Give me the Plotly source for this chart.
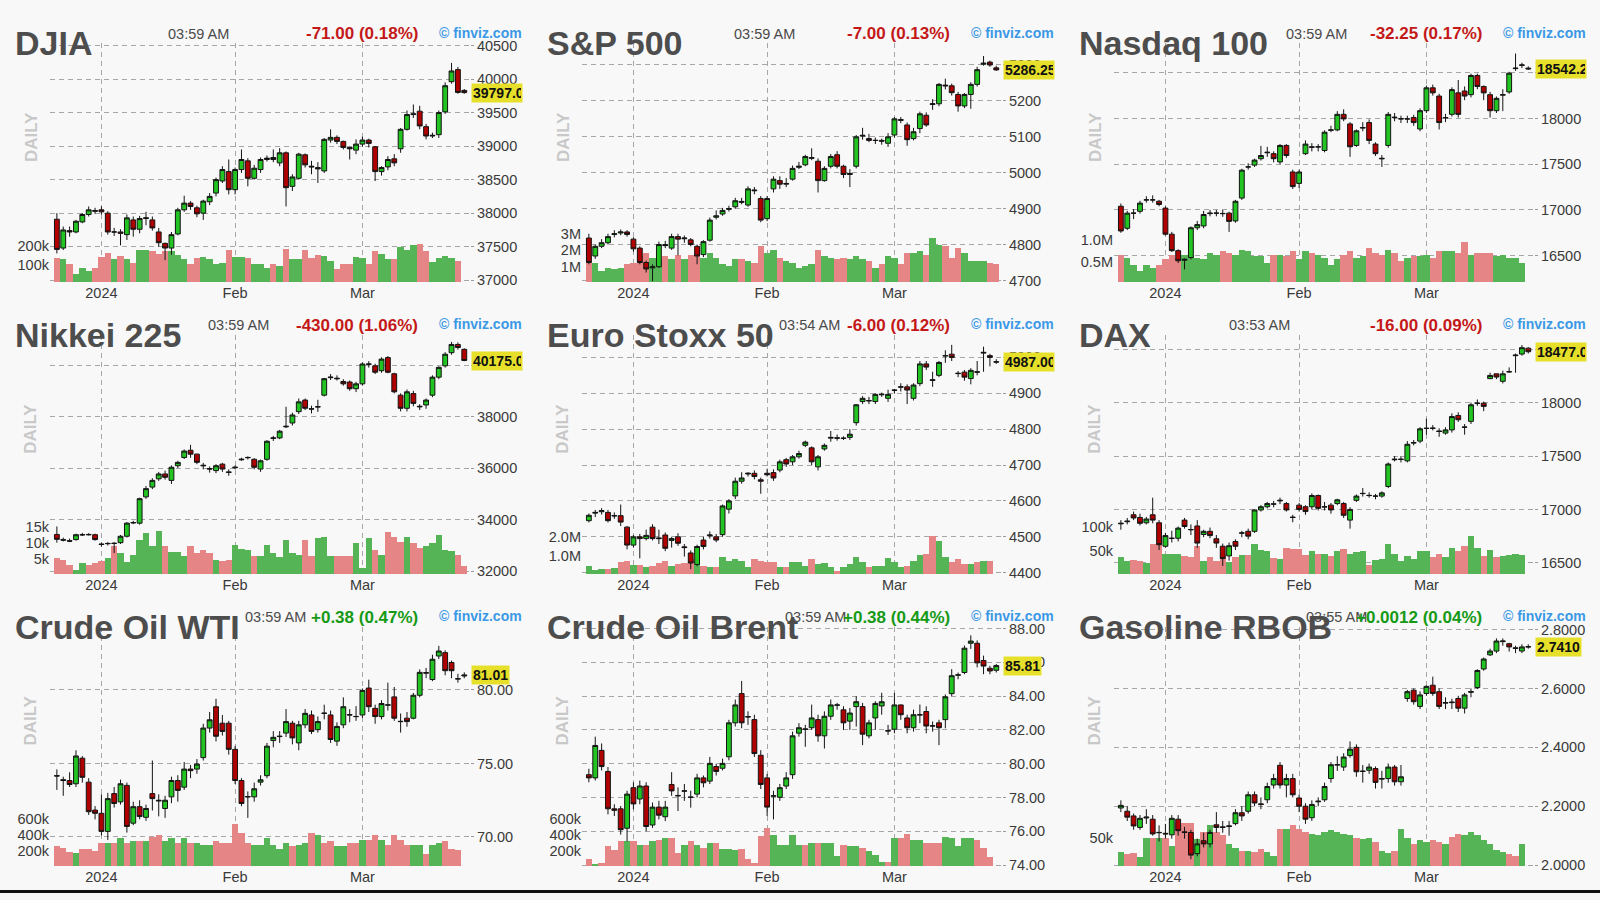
import pandas as pd
import plotly.graph_objects as go

# trading days shown on every panel (Dec 20 2023 .. Mar 25 2024)
HOLIDAYS = ['2023-12-25', '2024-01-01', '2024-01-15', '2024-02-19']
DATES = [d.strftime('%Y-%m-%d') for d in pd.bdate_range('2023-12-20', '2024-03-25')
         if d.strftime('%Y-%m-%d') not in HOLIDAYS]
MONTH_TICKS = ['2024-01-02', '2024-02-01', '2024-03-01']
MONTH_LABELS = ['2024', 'Feb', 'Mar']

NAMES = ['DJIA', 'S&P 500', 'Nasdaq 100', 'Nikkei 225', 'Euro Stoxx 50', 'DAX',
         'Crude Oil WTI', 'Crude Oil Brent', 'Gasoline RBOB']
TIMES = ['03:59 AM', '03:59 AM', '03:59 AM', '03:59 AM', '03:54 AM', '03:53 AM',
         '03:59 AM', '03:59 AM', '03:55 AM']
CHANGES = ['-71.00 (0.18%)', '-7.00 (0.13%)', '-32.25 (0.17%)', '-430.00 (1.06%)',
           '-6.00 (0.12%)', '-16.00 (0.09%)', '+0.38 (0.47%)', '+0.38 (0.44%)',
           '+0.0012 (0.04%)']
LAST_TEXT = ['39797.00', '5286.25', '18542.25', '40175.00', '4987.00', '18477.00',
             '81.01', '85.81', '2.7410']

# ---- DJIA
DJIA_O = [37910, 37480, 37740, 37720, 37870, 37980, 38040, 38050, 38000, 37720, 37720, 37680, 37900,
          37760, 37920, 37900, 37720, 37550, 37480, 37690, 38050, 38150, 38080, 38000, 38170, 38300,
          38480, 38620, 38350, 38650, 38780, 38520, 38650, 38800, 38830, 38750, 38900, 38400, 38520,
          38870, 38700, 38680, 38630, 39090, 39130, 39070, 38980, 38940, 39030, 39090, 38990, 38620,
          38690, 38810, 38960, 39250, 39470, 39520, 39290, 39150, 39170, 39510, 39960, 40140, 39830]
DJIA_H = [38000, 37800, 37800, 37900, 38000, 38100, 38080, 38100, 38030, 37780, 37760, 37980, 37950,
          37960, 38020, 37950, 37780, 37560, 37720, 38080, 38260, 38180, 38110, 38200, 38300, 38530,
          38700, 38800, 38680, 38950, 38820, 38720, 38830, 38860, 38950, 38970, 38920, 38580, 38900,
          38890, 38780, 38760, 39120, 39250, 39160, 39080, 38990, 39100, 39140, 39110, 39000, 38700,
          38850, 38880, 39270, 39530, 39620, 39600, 39330, 39200, 39530, 39950, 40240, 40180, 39850]
DJIA_L = [37400, 37450, 37650, 37700, 37850, 37950, 37990, 37980, 37680, 37660, 37520, 37600, 37650,
          37700, 37820, 37740, 37500, 37300, 37380, 37670, 38020, 38050, 37940, 37900, 38120, 38250,
          38450, 38280, 38280, 38600, 38400, 38500, 38600, 38770, 38760, 38700, 38100, 38330, 38500,
          38680, 38580, 38450, 38600, 39050, 39030, 38950, 38800, 38880, 38990, 38980, 38480, 38560,
          38640, 38700, 38900, 39230, 39420, 39250, 39100, 39120, 39120, 39480, 39930, 39780, 39780]
DJIA_C = [37460, 37750, 37720, 37880, 37980, 38050, 38030, 38020, 37720, 37720, 37700, 37930, 37760,
          37920, 37930, 37780, 37560, 37480, 37680, 38050, 38150, 38100, 37990, 38180, 38250, 38500,
          38650, 38350, 38650, 38800, 38520, 38670, 38800, 38820, 38800, 38900, 38380, 38540, 38880,
          38720, 38690, 38660, 39100, 39130, 39070, 38980, 38960, 39030, 39090, 39040, 38620, 38680,
          38800, 38750, 39250, 39470, 39480, 39300, 39150, 39160, 39500, 39900, 40120, 39800, 39797]
DJIA_V = [134, 125, 98, 45, 80, 63, 80, 139, 161, 125, 143, 125, 107,
          179, 175, 170, 157, 170, 170, 152, 125, 98, 134, 139, 125, 98,
          104, 179, 139, 139, 134, 98, 98, 80, 98, 89, 182, 129, 125,
          175, 134, 152, 143, 116, 75, 98, 98, 139, 134, 98, 170, 157,
          125, 129, 193, 175, 202, 211, 170, 111, 134, 146, 134, 116, 0]

# ---- S&P 500
SPX_O = [4818, 4768, 4795, 4805, 4828, 4832, 4835, 4815, 4790, 4750, 4735, 4738, 4800,
         4790, 4822, 4816, 4813, 4795, 4772, 4812, 4876, 4885, 4898, 4905, 4920, 4910,
         4952, 4928, 4872, 4955, 4978, 4968, 4982, 5015, 5022, 5040, 5032, 4978, 5018,
         5050, 5018, 4995, 5018, 5102, 5095, 5090, 5090, 5082, 5105, 5148, 5133, 5095,
         5123, 5160, 5190, 5192, 5244, 5242, 5218, 5186, 5218, 5246, 5302, 5308, 5292]
SPX_H = [4830, 4800, 4815, 4830, 4840, 4842, 4840, 4820, 4795, 4755, 4745, 4808, 4810,
         4830, 4830, 4825, 4818, 4800, 4812, 4875, 4895, 4902, 4908, 4930, 4930, 4962,
         4960, 4935, 4935, 4990, 4990, 4985, 5020, 5030, 5050, 5068, 5040, 5018, 5052,
         5060, 5022, 5010, 5105, 5125, 5108, 5098, 5095, 5110, 5155, 5155, 5140, 5125,
         5170, 5168, 5205, 5250, 5262, 5248, 5225, 5222, 5252, 5295, 5325, 5312, 5298]
SPX_L = [4745, 4760, 4790, 4800, 4820, 4826, 4822, 4780, 4745, 4722, 4698, 4735, 4790,
         4785, 4770, 4805, 4795, 4745, 4765, 4808, 4870, 4880, 4892, 4900, 4912, 4905,
         4940, 4862, 4865, 4945, 4955, 4960, 4978, 5010, 5018, 5035, 4945, 4975, 5012,
         5012, 4985, 4960, 5012, 5092, 5085, 5080, 5078, 5072, 5098, 5138, 5075, 5090,
         5110, 5128, 5175, 5185, 5232, 5215, 5170, 5180, 5178, 5240, 5298, 5295, 5284]
SPX_C = [4750, 4795, 4805, 4822, 4830, 4835, 4828, 4788, 4750, 4732, 4738, 4800, 4797,
         4822, 4815, 4818, 4800, 4768, 4808, 4868, 4880, 4895, 4900, 4922, 4918, 4955,
         4950, 4868, 4928, 4982, 4968, 4970, 5012, 5018, 5045, 5042, 4978, 5012, 5045,
         5018, 4995, 4998, 5100, 5104, 5090, 5090, 5088, 5100, 5150, 5146, 5092, 5114,
         5164, 5133, 5192, 5246, 5242, 5223, 5186, 5218, 5246, 5287, 5305, 5300, 5286.25]
SPX_V = [2.7, 1.2, 0.7, 0.9, 0.8, 0.9, 1.1, 1.2, 1.6, 1.8, 1.5, 1.3, 1.6,
         1.4, 1.7, 1.4, 1.7, 1.7, 1.5, 1.8, 1.5, 1.1, 1.0, 1.4, 1.4, 1.3,
         1.2, 2.2, 1.8, 2.0, 1.5, 1.3, 1.2, 0.9, 1.0, 1.1, 2.0, 1.6, 1.5,
         1.4, 1.5, 1.4, 1.6, 1.4, 1.3, 0.9, 1.1, 1.6, 1.5, 1.1, 1.8, 1.8,
         1.9, 1.7, 2.7, 2.3, 2.2, 1.5, 2.1, 1.8, 1.3, 1.3, 1.3, 1.2, 1.1]

# ---- Nasdaq 100
NDX_O = [17040, 16800, 16965, 16985, 17110, 17110, 17095, 17020, 16735, 16555, 16450, 16480, 16805,
         16825, 16960, 16965, 16962, 16965, 16880, 17130, 17470, 17490, 17560, 17625, 17615, 17525,
         17705, 17415, 17290, 17615, 17690, 17688, 17650, 17870, 17875, 18045, 17940, 17705, 17895,
         17955, 17720, 17565, 17705, 18015, 17998, 17995, 18010, 17885, 18085, 18335, 18245, 18005,
         18045, 18280, 18300, 18260, 18470, 18350, 18260, 18085, 18255, 18290, 18545, 18580, 18550]
NDX_H = [17070, 16990, 17010, 17100, 17150, 17160, 17110, 17040, 16760, 16570, 16470, 16820, 16880,
         16990, 17000, 17000, 17000, 16980, 17110, 17450, 17510, 17560, 17700, 17690, 17640, 17720,
         17720, 17440, 17440, 17760, 17730, 17720, 17870, 17920, 18080, 18100, 17960, 17880, 17960,
         17990, 17740, 17600, 18070, 18060, 18030, 18030, 18040, 18110, 18360, 18370, 18270, 18050,
         18340, 18420, 18350, 18490, 18490, 18360, 18290, 18240, 18320, 18510, 18710, 18610, 18570]
NDX_L = [16750, 16780, 16900, 16960, 17080, 17080, 17040, 16720, 16540, 16420, 16350, 16460, 16780,
         16800, 16930, 16930, 16925, 16760, 16860, 17110, 17440, 17470, 17540, 17580, 17520, 17500,
         17570, 17230, 17240, 17600, 17640, 17640, 17630, 17850, 17860, 17970, 17580, 17690, 17860,
         17720, 17590, 17470, 17680, 17970, 17950, 17950, 17920, 17860, 18060, 18250, 17880, 17960,
         18020, 18010, 18200, 18230, 18320, 18200, 18010, 18060, 18080, 18270, 18520, 18550, 18530]
NDX_C = [16770, 16965, 16965, 17075, 17110, 17110, 17060, 16735, 16555, 16445, 16460, 16805, 16840,
         16950, 16965, 16965, 16960, 16875, 17095, 17435, 17470, 17545, 17595, 17630, 17560, 17705,
         17595, 17255, 17415, 17720, 17685, 17690, 17850, 17875, 18045, 17995, 17690, 17865, 17900,
         17760, 17615, 17560, 18045, 18010, 17995, 17995, 17955, 18085, 18335, 18280, 17955, 18010,
         18315, 18045, 18245, 18470, 18350, 18280, 18085, 18220, 18260, 18495, 18550, 18585, 18542.25]
NDX_V = [0.65, 0.58, 0.42, 0.27, 0.42, 0.35, 0.42, 0.54, 0.65, 0.58, 0.65, 0.65, 0.58,
         0.54, 0.69, 0.65, 0.73, 0.69, 0.65, 0.77, 0.73, 0.62, 0.62, 0.46, 0.65, 0.65,
         0.62, 0.73, 0.54, 0.73, 0.69, 0.65, 0.58, 0.42, 0.54, 0.65, 0.73, 0.58, 0.62,
         0.81, 0.69, 0.65, 0.77, 0.69, 0.50, 0.58, 0.62, 0.62, 0.65, 0.58, 0.73, 0.73,
         0.73, 0.69, 0.95, 0.65, 0.69, 0.69, 0.69, 0.62, 0.65, 0.58, 0.58, 0.46, 0.0]

# ---- Nikkei 225
NKY_O = [33420, 33220, 33180, 33220, 33400, 33420, 33410, 33050, 33060, 33080, 33100, 33350, 33870,
         33860, 34880, 35260, 35580, 35770, 35520, 36090, 36410, 36690, 36540, 36110, 35980, 35900,
         36150, 35850, 36010, 36320, 36400, 36340, 35960, 36340, 37150, 37170, 37600, 37750, 38190,
         38640, 38300, 38370, 38830, 39510, 39490, 39360, 39340, 39080, 39270, 40030, 39970, 39780,
         40290, 39660, 38830, 38320, 38890, 38400, 38450, 38830, 39530, 39970, 40480, 40800, 40610]
NKY_H = [33730, 33300, 33260, 33450, 33480, 33470, 33450, 33100, 33120, 33120, 33400, 33900, 33950,
         34850, 35300, 35600, 35850, 35900, 36100, 36280, 36720, 36900, 36560, 36200, 36060, 36150,
         36200, 35950, 36100, 36400, 36450, 36380, 36330, 37080, 37250, 37480, 38380, 38150, 38700,
         38700, 38420, 38650, 39500, 39650, 39600, 39450, 39400, 39350, 40100, 40150, 40050, 40300,
         40350, 39700, 38900, 39050, 39000, 38480, 38700, 39600, 39950, 40500, 40900, 40880, 40650]
NKY_L = [33100, 33150, 33120, 33180, 33360, 33380, 33180, 32950, 32990, 32700, 33050, 33300, 33820,
         33800, 34800, 35180, 35500, 35550, 35380, 36000, 36350, 36400, 36150, 35950, 35820, 35800,
         35850, 35700, 35950, 36280, 36330, 35950, 35850, 36280, 37050, 37120, 37550, 37650, 38100,
         38250, 38120, 38180, 38780, 39420, 39400, 39200, 39000, 38950, 39200, 39900, 39650, 39700,
         39680, 38900, 38200, 38200, 38400, 38250, 38300, 38750, 39450, 39900, 40400, 40600, 40150]
NKY_C = [33230, 33200, 33160, 33410, 33410, 33410, 33220, 33030, 33070, 33070, 33350, 33860, 33880,
         34810, 35200, 35520, 35770, 35640, 36030, 36220, 36660, 36540, 36220, 36090, 35960, 36090,
         35960, 35830, 36030, 36340, 36410, 36030, 36280, 37040, 37170, 37430, 37620, 38060, 38570,
         38320, 38290, 38380, 39470, 39530, 39470, 39270, 39080, 39270, 40040, 40040, 39720, 40230,
         39720, 38960, 38320, 38960, 38510, 38380, 38640, 39530, 39910, 40420, 40800, 40680, 40175]
NKY_V = [5.2, 4.6, 3.1, 1.5, 3.6, 3.1, 3.6, 4.1, 5.2, 8.8, 6.7, 3.8, 6.2,
         10.8, 12.9, 8.8, 13.7, 8.8, 6.9, 7.2, 5.7, 8.8, 6.7, 7.7, 6.7, 4.6,
         4.1, 4.4, 9.3, 8.0, 7.7, 5.7, 5.7, 9.3, 6.7, 5.5, 10.8, 6.7, 6.2,
         10.8, 5.7, 11.3, 11.9, 5.7, 5.9, 5.7, 5.7, 9.8, 2.0, 11.3, 7.7, 6.2,
         13.4, 11.9, 10.3, 11.9, 9.8, 8.2, 8.8, 9.8, 12.4, 7.7, 7.5, 6.2, 2.6]

# ---- Euro Stoxx 50
SX5E_O = [4545, 4566, 4570, 4568, 4558, 4559, 4527, 4477, 4500, 4495, 4527, 4497, 4505,
          4490, 4500, 4472, 4455, 4423, 4491, 4503, 4500, 4506, 4577, 4614, 4655, 4675,
          4677, 4659, 4677, 4679, 4686, 4715, 4709, 4723, 4755, 4748, 4695, 4745, 4775,
          4776, 4774, 4777, 4818, 4877, 4880, 4877, 4896, 4886, 4908, 4917, 4918, 4886,
          4927, 4982, 4938, 4950, 5004, 5009, 4956, 4959, 4941, 4960, 5012, 5005, 4988]
SX5E_H = [4565, 4575, 4580, 4575, 4568, 4590, 4530, 4505, 4508, 4520, 4535, 4520, 4512,
          4500, 4510, 4480, 4462, 4478, 4500, 4515, 4508, 4590, 4605, 4665, 4680, 4680,
          4685, 4665, 4690, 4688, 4715, 4720, 4728, 4740, 4768, 4752, 4728, 4760, 4795,
          4785, 4780, 4800, 4870, 4892, 4890, 4900, 4902, 4910, 4912, 4928, 4925, 4928,
          4990, 4990, 4960, 4990, 5020, 5035, 4962, 4965, 4970, 4990, 5030, 5010, 4995]
SX5E_L = [4540, 4555, 4562, 4540, 4550, 4530, 4465, 4470, 4440, 4490, 4490, 4480, 4460,
          4470, 4475, 4445, 4410, 4418, 4465, 4495, 4485, 4500, 4565, 4605, 4648, 4668,
          4660, 4620, 4668, 4656, 4680, 4695, 4700, 4718, 4750, 4700, 4685, 4740, 4765,
          4768, 4770, 4770, 4810, 4870, 4870, 4870, 4890, 4876, 4900, 4905, 4870, 4880,
          4920, 4965, 4918, 4945, 4985, 4990, 4945, 4935, 4925, 4950, 4960, 4975, 4982]
SX5E_C = [4560, 4568, 4573, 4545, 4559, 4541, 4477, 4500, 4495, 4504, 4495, 4495, 4468,
          4495, 4482, 4470, 4427, 4473, 4473, 4505, 4491, 4586, 4600, 4655, 4664, 4677,
          4668, 4655, 4673, 4664, 4709, 4703, 4723, 4732, 4764, 4709, 4723, 4755, 4777,
          4775, 4775, 4786, 4868, 4886, 4879, 4897, 4897, 4897, 4909, 4918, 4909, 4923,
          4982, 4973, 4936, 4986, 5005, 5000, 4955, 4945, 4964, 4959, 5014, 5000, 4987]
SX5E_V = [0.47, 0.25, 0.30, 0.30, 0.35, 0.65, 0.74, 0.53, 0.53, 0.39, 0.47, 0.60, 0.74,
          0.47, 0.56, 0.60, 0.82, 0.56, 0.47, 0.39, 0.39, 0.91, 0.74, 0.82, 0.74, 0.39,
          0.82, 0.74, 0.65, 0.65, 0.39, 0.39, 0.65, 0.65, 0.47, 0.82, 0.56, 0.60, 0.39,
          0.18, 0.39, 0.56, 0.95, 0.65, 0.39, 0.47, 0.47, 0.88, 0.65, 0.39, 0.47, 0.74,
          1.05, 1.12, 2.05, 1.79, 0.91, 0.65, 0.82, 0.56, 0.56, 0.65, 0.74, 0.74, 0.0]

# ---- DAX
DAX_O = [16865, 16885, 16950, 16925, 16875, 16950, 16875, 16655, 16728, 16730, 16900, 16812, 16845,
         16765, 16795, 16725, 16655, 16565, 16700, 16778, 16795, 16795, 16995, 17025, 17052, 17080,
         17055, 16928, 17040, 17025, 17025, 17130, 17022, 17040, 17055, 17055, 16900, 17085, 17148,
         17132, 17124, 17125, 17215, 17465, 17468, 17455, 17622, 17640, 17758, 17762, 17735, 17715,
         17745, 17880, 17772, 17825, 17992, 17995, 18225, 18270, 18200, 18288, 18440, 18455, 18510]
DAX_H = [16900, 16920, 16980, 16960, 16930, 17110, 16900, 16780, 16800, 16840, 16920, 16860, 16900,
         16810, 16830, 16760, 16680, 16690, 16720, 16800, 16820, 17000, 17040, 17070, 17080, 17110,
         17070, 16950, 17060, 17040, 17150, 17140, 17070, 17060, 17100, 17070, 17020, 17140, 17200,
         17160, 17145, 17170, 17440, 17500, 17500, 17640, 17650, 17770, 17850, 17790, 17760, 17770,
         17900, 17910, 17800, 18000, 18030, 18010, 18280, 18270, 18300, 18330, 18460, 18540, 18520]
DAX_L = [16810, 16860, 16900, 16850, 16860, 16870, 16620, 16640, 16690, 16700, 16820, 16760, 16640,
         16740, 16730, 16640, 16470, 16520, 16620, 16740, 16720, 16780, 16980, 17010, 17020, 17050,
         16980, 16880, 16980, 16950, 17000, 16990, 16990, 16960, 17040, 16920, 16820, 17070, 17120,
         17110, 17095, 17110, 17200, 17450, 17440, 17440, 17600, 17620, 17700, 17740, 17680, 17700,
         17720, 17820, 17700, 17800, 17970, 17920, 18220, 18220, 18180, 18280, 18280, 18440, 18460]
DAX_C = [16870, 16890, 16920, 16870, 16910, 16900, 16670, 16755, 16730, 16825, 16840, 16810, 16685,
         16795, 16755, 16685, 16540, 16660, 16655, 16780, 16750, 16995, 17025, 17055, 17050, 17085,
         16995, 16925, 17000, 16980, 17130, 17010, 17025, 16995, 17090, 16945, 17000, 17125, 17150,
         17130, 17125, 17155, 17425, 17470, 17470, 17610, 17625, 17755, 17760, 17760, 17730, 17745,
         17870, 17840, 17770, 17980, 17995, 17965, 18255, 18240, 18270, 18290, 18445, 18515, 18477]
DAX_V = [36, 29, 31, 29, 24, 64, 64, 43, 43, 44, 40, 36, 60,
         29, 36, 29, 44, 26, 36, 42, 42, 64, 51, 49, 35, 33,
         56, 53, 53, 42, 50, 44, 44, 40, 50, 53, 43, 47, 50,
         21, 31, 33, 64, 43, 28, 40, 33, 50, 50, 36, 43, 36,
         57, 49, 60, 81, 57, 40, 51, 36, 40, 42, 43, 42, 0]

# ---- Crude Oil WTI
WTI_O = [74.17, 73.90, 73.84, 73.62, 75.36, 73.73, 71.83, 71.61, 70.38, 72.95, 72.39, 73.51, 70.94,
         72.06, 71.34, 72.95, 72.50, 71.94, 72.73, 73.84, 73.39, 74.62, 74.62, 75.40, 77.41, 78.86,
         77.74, 77.74, 75.96, 73.84, 72.75, 72.73, 73.73, 74.17, 76.56, 76.83, 77.07, 77.74, 76.40,
         77.63, 78.30, 77.30, 78.43, 78.30, 76.52, 77.63, 78.32, 78.20, 78.30, 80.13, 78.75, 78.19,
         78.99, 79.53, 77.87, 78.08, 78.08, 79.64, 81.18, 80.71, 82.31, 82.54, 81.87, 80.77, 80.95]
WTI_H = [74.60, 74.10, 74.40, 75.90, 75.50, 74.00, 72.10, 72.90, 73.00, 73.40, 73.90, 73.70, 72.40,
         72.50, 72.20, 75.20, 72.90, 72.80, 74.10, 74.20, 75.10, 74.90, 75.30, 77.70, 78.50, 79.40,
         78.30, 77.90, 76.20, 74.00, 73.10, 73.70, 74.20, 76.40, 77.20, 77.20, 78.70, 77.90, 77.90,
         78.70, 78.60, 78.20, 79.00, 78.60, 77.80, 79.50, 78.70, 78.90, 80.10, 80.70, 79.00, 79.30,
         80.50, 80.20, 78.40, 78.50, 79.80, 81.40, 81.50, 82.40, 83.00, 82.70, 82.00, 81.10, 81.20]
WTI_L = [73.20, 72.80, 73.40, 73.40, 73.70, 71.50, 71.20, 70.10, 69.80, 72.00, 72.20, 70.30, 70.80,
         71.20, 71.10, 71.80, 71.40, 71.30, 72.30, 72.40, 73.20, 74.00, 74.30, 75.20, 77.10, 76.50,
         76.90, 75.60, 73.60, 72.10, 71.30, 72.40, 73.50, 74.00, 76.10, 76.40, 76.80, 76.30, 75.90,
         77.40, 77.00, 77.10, 78.00, 76.40, 76.20, 77.40, 77.80, 77.90, 78.10, 78.50, 77.70, 78.00,
         78.60, 77.90, 77.10, 77.50, 78.00, 79.50, 80.80, 80.60, 82.10, 81.00, 80.80, 80.50, 80.80]
WTI_C = [74.15, 73.84, 73.57, 75.51, 74.06, 71.72, 71.61, 70.38, 72.61, 72.28, 73.62, 70.72, 72.06,
         71.39, 71.94, 72.61, 72.46, 72.50, 73.84, 73.17, 74.62, 74.51, 74.96, 77.41, 77.97, 76.85,
         77.18, 75.96, 73.84, 72.28, 72.73, 73.28, 73.89, 76.18, 76.78, 76.85, 77.85, 76.74, 77.63,
         78.41, 77.18, 77.85, 78.41, 76.63, 77.52, 78.86, 78.30, 78.19, 79.97, 78.86, 78.19, 79.08,
         78.97, 78.08, 77.85, 77.85, 79.64, 81.20, 81.15, 82.09, 82.65, 81.31, 81.31, 80.75, 81.01]
WTI_V = [256, 235, 181, 165, 223, 223, 194, 297, 297, 297, 359, 297, 318,
         318, 318, 371, 400, 318, 359, 297, 359, 297, 297, 276, 276, 318,
         297, 297, 536, 421, 297, 276, 276, 359, 276, 215, 297, 256, 276,
         297, 421, 400, 297, 318, 256, 256, 297, 297, 338, 338, 400, 338,
         276, 400, 338, 276, 276, 276, 153, 276, 297, 318, 223, 206, 0]

# ---- Crude Oil Brent
BRN_O = [79.35, 79.16, 80.79, 79.54, 77.33, 77.33, 76.18, 78.58, 77.91, 78.68, 76.37, 77.43, 76.86,
         78.77, 78.12, 78.37, 78.03, 78.20, 79.16, 78.97, 79.83, 79.73, 80.41, 82.42, 84.15, 82.79,
         82.61, 80.50, 79.16, 78.08, 78.01, 78.68, 79.35, 81.81, 82.06, 82.13, 82.61, 81.65, 82.81,
         83.46, 83.19, 82.52, 83.38, 83.38, 81.65, 82.71, 83.42, 81.96, 82.04, 83.48, 82.71, 82.13,
         82.88, 83.09, 82.25, 82.42, 82.61, 84.15, 85.24, 85.40, 87.13, 87.13, 86.11, 85.65, 85.53]
BRN_H = [79.70, 81.60, 81.20, 79.80, 77.60, 77.50, 78.40, 78.90, 79.00, 78.90, 77.70, 77.80, 77.80,
         79.50, 78.60, 78.80, 78.40, 79.40, 79.30, 80.40, 80.00, 80.30, 82.60, 83.80, 84.90, 83.10,
         82.90, 80.80, 79.40, 78.40, 78.80, 79.50, 81.90, 82.40, 82.30, 83.50, 82.90, 83.10, 83.80,
         83.60, 83.40, 83.30, 84.00, 83.60, 82.60, 83.70, 84.20, 82.30, 84.20, 83.50, 82.90, 83.20,
         83.50, 83.40, 82.50, 82.60, 84.10, 85.60, 85.40, 87.00, 87.60, 87.30, 86.40, 85.80, 85.90]
BRN_L = [78.90, 79.00, 79.60, 77.00, 76.90, 75.80, 75.40, 77.30, 77.60, 76.00, 76.20, 76.70, 76.60,
         78.10, 77.20, 77.80, 77.40, 78.00, 78.60, 78.80, 79.30, 79.60, 80.20, 82.20, 82.10, 82.30,
         80.40, 78.50, 76.90, 76.70, 77.80, 78.50, 79.10, 81.60, 81.00, 82.00, 81.30, 80.90, 82.60,
         83.20, 82.00, 82.00, 82.20, 81.10, 81.50, 82.00, 82.90, 81.70, 81.80, 82.60, 81.80, 81.90,
         82.40, 81.80, 81.90, 81.10, 82.10, 84.00, 85.00, 85.30, 86.80, 85.70, 85.30, 85.30, 85.40]
BRN_C = [79.16, 81.08, 79.83, 77.33, 77.24, 76.09, 78.20, 77.62, 78.68, 76.28, 77.43, 76.95, 77.43,
         78.39, 78.10, 78.39, 78.01, 79.16, 78.87, 80.02, 79.54, 80.02, 82.42, 83.48, 82.42, 82.77,
         80.60, 78.77, 77.43, 78.10, 78.58, 79.16, 81.65, 82.13, 82.04, 82.71, 81.65, 82.81, 83.48,
         83.48, 82.42, 83.00, 83.67, 81.75, 82.42, 83.57, 83.67, 81.94, 83.48, 82.90, 82.13, 82.90,
         82.90, 82.23, 82.23, 82.13, 83.96, 85.21, 85.26, 86.84, 87.26, 85.97, 85.78, 85.49, 85.81]
BRN_V = [91, 29, 41, 256, 206, 318, 318, 318, 276, 276, 318, 330, 359,
         359, 165, 276, 318, 276, 235, 297, 297, 215, 215, 206, 215, 91,
         50, 388, 483, 400, 276, 276, 400, 276, 276, 297, 297, 297, 297,
         132, 276, 256, 256, 235, 194, 140, 58, 58, 359, 359, 412, 338,
         338, 297, 297, 297, 371, 359, 256, 359, 359, 338, 235, 124, 0]

# ---- Gasoline RBOB
RB_O = [2.194, 2.183, 2.167, 2.128, 2.160, 2.156, 2.110, 2.108, 2.103, 2.156, 2.113, 2.111, 2.039,
        2.083, 2.072, 2.137, 2.130, 2.131, 2.141, 2.178, 2.183, 2.239, 2.208, 2.222, 2.272, 2.339,
        2.272, 2.294, 2.228, 2.200, 2.161, 2.215, 2.222, 2.294, 2.340, 2.333, 2.372, 2.400, 2.318,
        2.322, 2.328, 2.292, 2.294, 2.333, 2.283, 2.566, 2.594, 2.539, 2.583, 2.611, 2.589, 2.550,
        2.554, 2.566, 2.533, 2.587, 2.603, 2.666, 2.714, 2.727, 2.759, 2.752, 2.738, 2.727, 2.742]
RB_H = [2.220, 2.200, 2.175, 2.170, 2.190, 2.170, 2.135, 2.140, 2.170, 2.170, 2.130, 2.120, 2.090,
        2.110, 2.120, 2.180, 2.150, 2.150, 2.190, 2.200, 2.250, 2.250, 2.230, 2.280, 2.310, 2.350,
        2.310, 2.310, 2.240, 2.210, 2.220, 2.230, 2.280, 2.350, 2.370, 2.380, 2.420, 2.410, 2.340,
        2.345, 2.335, 2.320, 2.345, 2.340, 2.340, 2.595, 2.600, 2.590, 2.610, 2.640, 2.600, 2.570,
        2.565, 2.575, 2.585, 2.600, 2.665, 2.705, 2.735, 2.770, 2.770, 2.755, 2.745, 2.750, 2.750]
RB_L = [2.180, 2.150, 2.120, 2.120, 2.140, 2.100, 2.080, 2.090, 2.090, 2.100, 2.090, 2.020, 2.030,
        2.060, 2.060, 2.110, 2.110, 2.100, 2.135, 2.150, 2.175, 2.200, 2.190, 2.210, 2.260, 2.260,
        2.230, 2.230, 2.180, 2.140, 2.150, 2.200, 2.215, 2.280, 2.320, 2.320, 2.365, 2.300, 2.280,
        2.310, 2.260, 2.260, 2.280, 2.270, 2.270, 2.555, 2.545, 2.530, 2.575, 2.575, 2.530, 2.530,
        2.530, 2.520, 2.515, 2.570, 2.598, 2.660, 2.710, 2.720, 2.745, 2.725, 2.720, 2.720, 2.735]
RB_C = [2.203, 2.163, 2.133, 2.159, 2.163, 2.106, 2.111, 2.106, 2.159, 2.117, 2.111, 2.034, 2.072,
        2.072, 2.111, 2.128, 2.128, 2.133, 2.178, 2.167, 2.239, 2.211, 2.206, 2.267, 2.294, 2.272,
        2.294, 2.239, 2.200, 2.156, 2.206, 2.217, 2.267, 2.341, 2.341, 2.367, 2.394, 2.317, 2.319,
        2.333, 2.281, 2.294, 2.333, 2.283, 2.300, 2.589, 2.555, 2.578, 2.607, 2.583, 2.539, 2.552,
        2.552, 2.533, 2.578, 2.589, 2.661, 2.700, 2.727, 2.761, 2.761, 2.741, 2.736, 2.741, 2.741]
RB_V = [26, 22, 24, 16, 50, 50, 50, 50, 37, 76, 76, 76, 49,
        61, 73, 61, 55, 40, 32, 28, 28, 26, 31, 25, 19, 67,
        67, 73, 67, 61, 58, 55, 61, 64, 61, 58, 55, 50, 49,
        50, 43, 28, 24, 28, 67, 50, 40, 46, 43, 46, 43, 40,
        52, 58, 55, 61, 55, 46, 40, 30, 25, 22, 19, 40, 0]

DATA = [
    (DJIA_O, DJIA_H, DJIA_L, DJIA_C, DJIA_V),
    (SPX_O, SPX_H, SPX_L, SPX_C, SPX_V),
    (NDX_O, NDX_H, NDX_L, NDX_C, NDX_V),
    (NKY_O, NKY_H, NKY_L, NKY_C, NKY_V),
    (SX5E_O, SX5E_H, SX5E_L, SX5E_C, SX5E_V),
    (DAX_O, DAX_H, DAX_L, DAX_C, DAX_V),
    (WTI_O, WTI_H, WTI_L, WTI_C, WTI_V),
    (BRN_O, BRN_H, BRN_L, BRN_C, BRN_V),
    (RB_O, RB_H, RB_L, RB_C, RB_V),
]

# volume axis labels (values in the same unit as the *_V lists)
VOL_TICKS = [[100, 200], [1, 2, 3], [0.5, 1.0], [5, 10, 15], [1, 2], [50, 100],
             [200, 400, 600], [200, 400, 600], [50]]
VOL_LABELS = [['100k', '200k'], ['1M', '2M', '3M'], ['0.5M', '1.0M'], ['5k', '10k', '15k'],
              ['1.0M', '2.0M'], ['50k', '100k'], ['200k', '400k', '600k'],
              ['200k', '400k', '600k'], ['50k']]

# axis scaling per panel
PRICE_RANGE = [[36960, 40530], [4693, 5360], [16202, 18820], [31858, 41160], [4394.5, 5062],
               [16389, 18632], [68.0, 84.29], [73.92, 88.10], [1.9957, 2.809]]
PRICE_DTICK = [500, 100, 500, 2000, 100, 500, 5, 2, 0.2]
PRICE_FMT = ['d', 'd', 'd', 'd', 'd', 'd', '.2f', '.2f', '.4f']
VOL_MAX = [1301, 14.58, 5.61, 75.1, 12.79, 506, 3006, 3006, 423]
TIME_X = [198, 232, 252, 238, 277, 195, 275, 283, 272]
LAST_W = [48, 48, 48, 48, 48, 48, None, None, None]

for name, arrs in zip(NAMES, DATA):
    for a in arrs:
        if len(a) != len(DATES):
            raise ValueError(f'{name}: {len(a)} values for {len(DATES)} dates')

W, H = 1600, 900
PW, PH = 532, 296
PL, PR, PT, PB = 50, 470, 38, 281
FONT = 'Liberation Sans, Arial, sans-serif'
GRID = '#a6a6a6'
DASH = '5px,4px'
BG = '#f8f8f8'

fig = go.Figure()
layout = {}
ann = []

for k, name in enumerate(NAMES):
    o, h, l, c, v = DATA[k]
    ox, oy = PW * (k % 3), PH * (k // 3)
    xn = '' if k == 0 else str(k + 1)
    vn = '' if k == 0 else str(2 * k + 1)
    pn = str(2 * k + 2)

    vol_colors = ['#55b455' if cc >= oo else '#e58585' for oo, cc in zip(o, c)]
    fig.add_trace(go.Bar(x=DATES, y=v, marker=dict(color=vol_colors, line=dict(width=0)),
                         width=1.0, xaxis='x' + xn, yaxis='y' + vn,
                         hoverinfo='skip', showlegend=False))
    fig.add_trace(go.Candlestick(
        x=DATES, open=o, high=h, low=l, close=c, xaxis='x' + xn, yaxis='y' + pn,
        increasing=dict(line=dict(color='#141414', width=1), fillcolor='#21c421'),
        decreasing=dict(line=dict(color='#141414', width=1), fillcolor='#b00000'),
        whiskerwidth=0, hoverinfo='skip', showlegend=False))

    tfont = dict(family=FONT, size=14.5, color='#3a3a3a')
    layout['xaxis' + xn] = dict(
        domain=[(ox + PL) / W, (ox + PR) / W], anchor='y' + vn, type='category',
        categoryorder='array', categoryarray=DATES, range=[-1.08, len(DATES) - 0.1],
        tickmode='array', tickvals=MONTH_TICKS, ticktext=MONTH_LABELS,
        showgrid=True, gridcolor=GRID, griddash=DASH, gridwidth=1,
        ticks='', showline=False, zeroline=False, tickfont=tfont,
        rangeslider=dict(visible=False), fixedrange=True)
    layout['yaxis' + vn] = dict(
        domain=[1 - (oy + PB) / H, 1 - (oy + PT) / H], anchor='x' + xn, side='left',
        range=[0, VOL_MAX[k]], tickmode='array', tickvals=VOL_TICKS[k], ticktext=VOL_LABELS[k],
        showgrid=False, zeroline=False, showline=False, ticks='', tickfont=tfont,
        fixedrange=True)
    layout['yaxis' + pn] = dict(
        overlaying='y' + vn, anchor='x' + xn, side='right', range=PRICE_RANGE[k],
        tickmode='linear', tick0=0, dtick=PRICE_DTICK[k], tickformat=PRICE_FMT[k],
        showgrid=True, gridcolor=GRID, griddash=DASH, gridwidth=1, zeroline=False,
        showline=False, ticks='outside', ticklen=3, tickcolor='#9a9a9a', tickfont=tfont,
        fixedrange=True)

    def px(xp):
        return (ox + xp) / W

    def py(yp):
        return 1 - (oy + yp) / H

    paper = dict(xref='paper', yref='paper', showarrow=False, yanchor='middle')
    ann.append(dict(paper, x=px(TIME_X[k]), y=py(28), text=TIMES[k], xanchor='center',
                    font=dict(family=FONT, size=14.5, color='#4a4a4a')))
    ann.append(dict(paper, x=px(13), y=py(38), text=name, xanchor='left',
                    font=dict(family=FONT, size=34, color='#4d4d4d', weight='bold')))
    up = CHANGES[k].startswith('+')
    ann.append(dict(paper, x=px(420), y=py(28), text=CHANGES[k], xanchor='right',
                    font=dict(family=FONT, size=17, weight='bold',
                              color='#169a16' if up else '#c41818')))
    ann.append(dict(paper, x=px(437), y=py(27), text='© finviz.com', xanchor='left',
                    font=dict(family=FONT, size=14, color='#3b98e6', weight='bold')))
    ann.append(dict(paper, x=px(31), y=py(133), text='DAILY', textangle=-90, xanchor='center',
                    font=dict(family=FONT, size=17, color='#c8c8c8', weight='bold')))
    last = dict(x=px(471), xref='paper', y=c[-1], yref='y' + pn, text=LAST_TEXT[k],
                showarrow=False, xanchor='left', yanchor='middle', align='left',
                bgcolor='#e6e02a', borderpad=1,
                font=dict(family=FONT, size=14, color='#111111', weight='bold'))
    if LAST_W[k]:
        last['width'] = LAST_W[k]
    ann.append(last)

fig.update_layout(
    width=W, height=H, margin=dict(l=0, r=0, t=0, b=0),
    paper_bgcolor=BG, plot_bgcolor=BG, showlegend=False, bargap=0,
    boxgap=0.2, boxgroupgap=0.05,
    annotations=ann,
    shapes=[dict(type='rect', xref='paper', yref='paper', x0=0, x1=1, y0=0, y1=3 / H,
                 fillcolor='#111111', line=dict(width=0), layer='above')],
    **layout)

# pin the figure to the window's top-left corner so the page is exactly 1600x900
PAGE_JS = ("var s=document.documentElement.style, b=document.body.style;"
           "s.overflow='hidden'; b.overflow='hidden'; b.margin='0';"
           "var d=document.getElementById('{plot_id}');"
           "d.style.position='fixed'; d.style.left='0'; d.style.top='0';")
fig.write_html("out.html", config={'displayModeBar': False}, post_script=PAGE_JS)
